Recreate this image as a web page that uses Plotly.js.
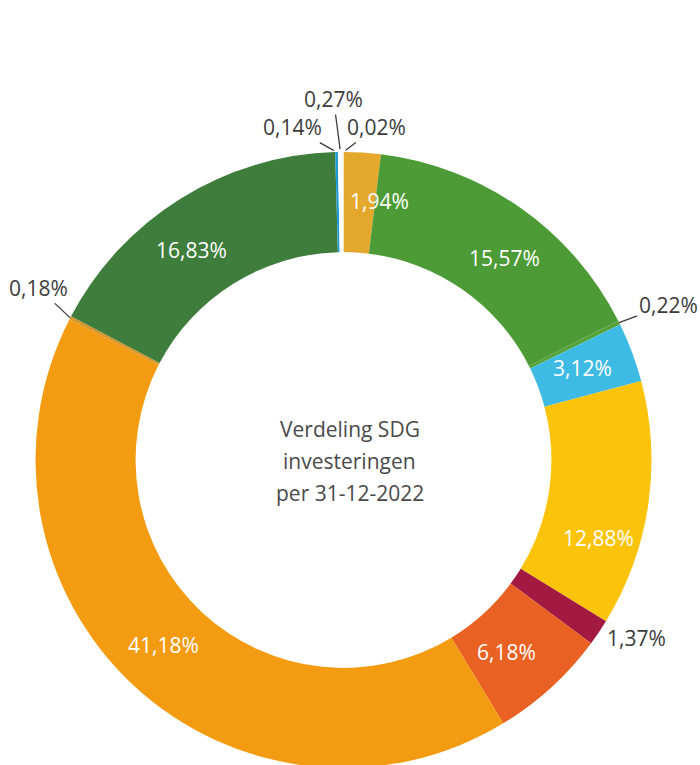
<!DOCTYPE html>
<html>
<head>
<meta charset="utf-8">
<script src="https://cdn.plot.ly/plotly-3.0.1.min.js"></script>
<style>
html, body { margin: 0; padding: 0; overflow: hidden; background: #fff; }
#chart { width: 700px; height: 780px; }
</style>
</head>
<body>
<div id="chart"></div>
<script>
// Data (clockwise from 12 o'clock)
const categories = ["SDG 2", "SDG 3", "SDG 4", "SDG 6", "SDG 7", "SDG 8", "SDG 9", "SDG 11", "SDG 12", "SDG 13", "SDG 14", "SDG 15", "SDG 17"];
const shares = [1.94, 15.57, 0.22, 3.12, 12.88, 1.37, 6.18, 41.18, 0.18, 16.83, 0.14, 0.27, 0.02];
const sliceColors = ["#E3A82C", "#4D9B36", "#55A23A", "#3EBBE5", "#FCC30B", "#A21942", "#EA6223", "#F39C12", "#D9962A", "#3E7D3B", "#1E9AD6", "#FFFFFF", "#FFFFFF"];
// 'ring' = white label on the ring, 'out' = outside label
const labelMode = ["ring", "ring", "out", "ring", "ring", "out", "ring", "ring", "out", "ring", "out", "out", "out"];
const centerLines = ["Verdeling SDG", "investeringen", "per 31-12-2022"];

// label offsets (pixels) relative to the slice's anchor point
const labelStyle = [
  { ax: 20, ay: -2, arrow: false },
  { ax: 13, ay: 9, arrow: false },
  { ax: 49, ay: -18, arrow: true, standoff: 0 },
  { ax: -3, ay: -2, arrow: false },
  { ax: 0, ay: 41, arrow: false },
  { ax: 38, ay: 6, arrow: false },
  { ax: -11, ay: 1, arrow: false },
  { ax: -4, ay: -4, arrow: false },
  { ax: -32, ay: -30, arrow: true, standoff: 0 },
  { ax: -16, ay: 9, arrow: false },
  { ax: -44, ay: -25, arrow: true, standoff: 3 },
  { ax: -7, ay: -53, arrow: true, standoff: 3 },
  { ax: 33, ay: -25, arrow: true, standoff: 3 }
];

const fmt = v => v.toFixed(2).replace('.', ',') + '%';
const labelsText = shares.map(fmt);

const W = 700, H = 780;
const cx = 343.5, cy = 460, R = 308, HOLE = 0.675;
const FONT = 'Open Sans';

const slices = {
  type: 'pie',
  labels: categories,
  values: shares,
  hole: HOLE,
  sort: false,
  direction: 'clockwise',
  rotation: 0,
  automargin: false,
  domain: {
    x: [(cx - R) / W, (cx + R) / W],
    y: [1 - (cy + R) / H, 1 - (cy - R) / H]
  },
  showlegend: false,
  textinfo: 'none',
  hoverinfo: 'label+percent',
  marker: { colors: sliceColors, line: { width: 0 } }
};

// labels, anchored at each slice's mid-angle (ring centre or outer edge)
const total = shares.reduce((a, b) => a + b, 0);
const annotations = [];
let cum = 0;
shares.forEach((v, i) => {
  const mid = (cum + v / 2) / total;
  cum += v;
  const mode = labelMode[i];
  const rr = mode === 'ring' ? R * (1 + HOLE) / 2 : R;
  const ang = mid * 2 * Math.PI;
  const px = cx + rr * Math.sin(ang);
  const py = cy - rr * Math.cos(ang);
  const st = labelStyle[i];
  const a = {
    text: labelsText[i],
    xref: 'paper', yref: 'paper',
    x: px / W, y: 1 - py / H,
    font: { family: FONT, size: 21, color: mode === 'ring' ? '#ffffff' : '#3c3c3c' }
  };
  if (st.arrow) {
    Object.assign(a, {
      showarrow: true, arrowhead: 0, arrowwidth: 1.3, arrowcolor: '#3c3c3c',
      ax: st.ax, ay: st.ay, standoff: st.standoff
    });
  } else {
    Object.assign(a, {
      showarrow: false, xanchor: 'center', yanchor: 'middle',
      xshift: st.ax, yshift: -st.ay
    });
  }
  annotations.push(a);
});

centerLines.forEach((t, i) => annotations.push({
  text: t,
  xref: 'paper', yref: 'paper',
  x: (cx + 6) / W, y: 1 - (429 + i * 32) / H,
  xanchor: 'center', yanchor: 'middle',
  showarrow: false,
  font: { family: FONT, size: 21, color: '#4a4a4a' }
}));

const layout = {
  width: W, height: H,
  margin: { l: 0, r: 0, t: 0, b: 0 },
  showlegend: false,
  paper_bgcolor: '#ffffff',
  annotations: annotations
};

Plotly.newPlot('chart', [slices], layout, { displayModeBar: false, staticPlot: true });
</script>
</body>
</html>
